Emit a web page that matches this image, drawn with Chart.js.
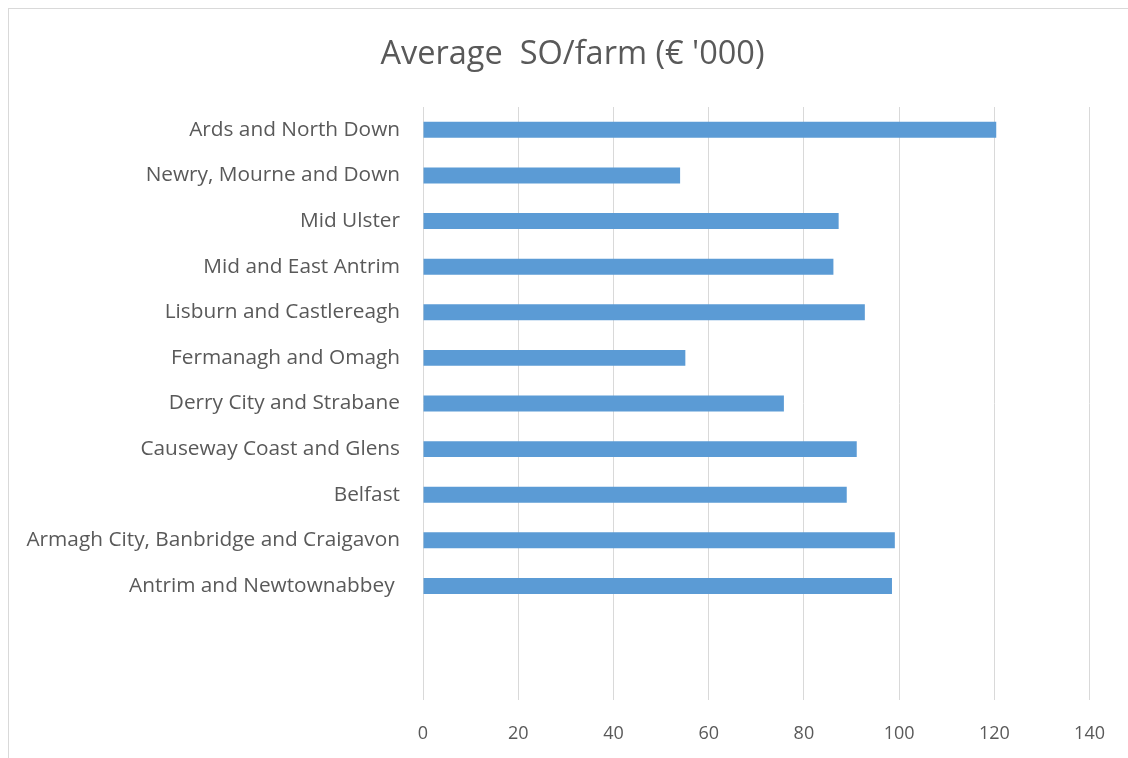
<!DOCTYPE html>
<html>
<head>
<meta charset="utf-8">
<script src="https://cdn.jsdelivr.net/npm/chart.js@4"></script>
<style>
  html, body { margin: 0; padding: 0; background: #fff; overflow: hidden; }
  #wrap { position: relative; width: 1128px; height: 758px; }
  #frame { position: absolute; left: 8px; top: 8px; width: 1200px; height: 800px; border: 1px solid #d9d9d9; }
  canvas { position: absolute; left: 0; top: 0; }
</style>
</head>
<body>
<div id="wrap">
  <div id="frame"></div>
  <canvas id="chart" width="1128" height="758"></canvas>
</div>
<script>
// categories top to bottom, two blank rows at the end like the sheet
const regiones = [
  'Ards and North Down',
  'Newry, Mourne and Down',
  'Mid Ulster',
  'Mid and East Antrim',
  'Lisburn and Castlereagh',
  'Fermanagh and Omagh',
  'Derry City and Strabane',
  'Causeway Coast and Glens',
  'Belfast',
  'Armagh City, Banbridge and Craigavon',
  'Antrim and Newtownabbey ',
  '',
  ''
];
const soPorGranja = [120.4, 54.0, 87.3, 86.2, 92.8, 55.1, 75.8, 91.1, 89.0, 99.1, 98.5, null, null];
const ticksX = [0, 20, 40, 60, 80, 100, 120, 140];

const titulo = "Average  SO/farm (\u20ac '000)";
const gris = '#595959';
const fuente = '"Open Sans", Lato, sans-serif';

// Excel centres the title a bit right of the canvas middle
const moverTitulo = {
  id: 'moverTitulo',
  afterLayout(chart) {
    if (chart.titleBlock) chart.titleBlock.left = 55;
  }
};

new Chart(document.getElementById('chart'), {
  type: 'bar',
  data: {
    labels: regiones,
    datasets: [{
      label: titulo,
      data: soPorGranja,
      backgroundColor: '#5b9bd5',
      categoryPercentage: 1,
      barPercentage: 0.35
    }]
  },
  options: {
    indexAxis: 'y',
    responsive: false,
    animation: false,
    layout: { padding: { left: 0, right: 38, top: 0, bottom: 0 } },
    plugins: {
      legend: { display: false },
      tooltip: { enabled: false },
      title: {
        display: true,
        text: titulo,
        color: gris,
        font: { family: fuente, size: 32.5, weight: 'normal' },
        padding: { top: 35, bottom: 33 }
      }
    },
    scales: {
      x: {
        min: 0,
        max: 140,
        afterBuildTicks: (axis) => { axis.ticks = ticksX.map((v) => ({ value: v })); },
        afterFit: (axis) => { axis.height = 58; },
        grid: { color: '#d9d9d9', lineWidth: 1, drawTicks: false },
        border: { display: false },
        ticks: { color: gris, font: { family: fuente, size: 18 }, padding: 23 }
      },
      y: {
        afterFit: (axis) => { axis.width = 423; },
        grid: { display: false, drawTicks: false },
        border: { display: false },
        ticks: { color: gris, font: { family: fuente, size: 20.8 }, padding: 23, autoSkip: false }
      }
    }
  },
  plugins: [moverTitulo]
});
</script>
</body>
</html>
